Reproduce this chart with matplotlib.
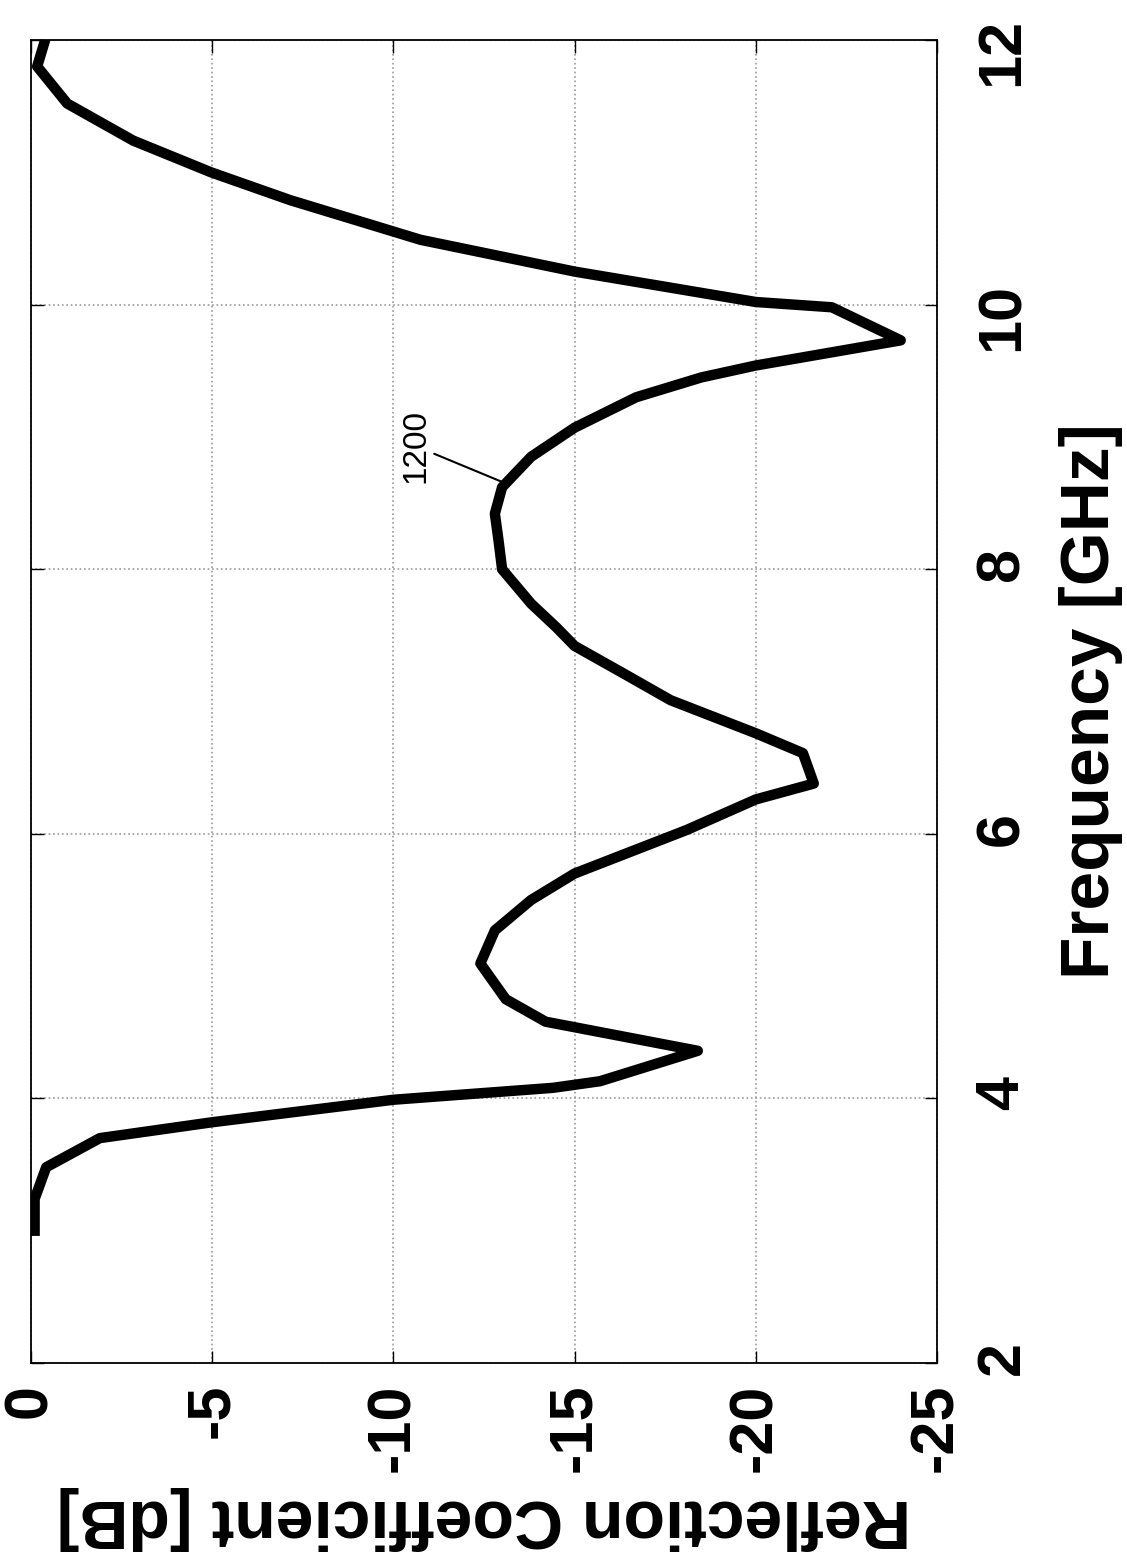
import matplotlib
matplotlib.use('Agg')
import matplotlib.pyplot as plt

# frequency [GHz] and reflection coefficient [dB]
freq = [3.0, 3.24, 3.48, 3.70, 3.82, 3.99, 4.08, 4.13, 4.36, 4.58, 4.75, 5.02,
        5.27, 5.50, 5.70, 6.03, 6.26, 6.38, 6.61, 6.76, 7.01, 7.22, 7.42, 7.56,
        7.74, 8.0, 8.22, 8.42, 8.62, 8.85, 9.07, 9.30, 9.45, 9.54, 9.73, 9.98,
        10.02, 10.25, 10.49, 10.79, 11.0, 11.24, 11.52, 11.80, 12.0]
refl = [-0.1, -0.1, -0.42, -1.9, -5.0, -10.0, -14.4, -15.7, -18.4, -14.2, -13.1, -12.4,
        -12.8, -13.8, -15.0, -18.1, -20.0, -21.6, -21.3, -20.0, -17.65, -16.3, -15.0, -14.5,
        -13.8, -13.0, -12.9, -12.8, -13.0, -13.8, -15.0, -16.7, -18.5, -20.0, -24.0, -22.1,
        -20.0, -15.0, -10.75, -7.15, -4.97, -2.82, -1.0, -0.17, -0.39]

db_ticks = [0, -5, -10, -15, -20, -25]
freq_ticks = [2, 4, 6, 8, 10, 12]

plt.rcParams['font.family'] = ['Liberation Sans', 'DejaVu Sans']
plt.rcParams['axes.unicode_minus'] = False

fig = plt.figure(figsize=(11.27, 15.64), dpi=100)
ax = fig.add_axes([0.0275, 0.1285, 0.8039, 0.8459])

# the figure is drawn turned by 90 degrees: frequency runs up the page
ax.plot(refl, freq, color='black', lw=7.5)

ax.annotate('1200', xy=(-13.0, 8.66), xytext=(-11.05, 8.93), rotation=90,
            ha='right', va='center', fontsize=24,
            arrowprops=dict(arrowstyle='-', lw=1.5, color='black', shrinkA=0, shrinkB=0))

ax.set_xlim(0, -25)
ax.set_ylim(2, 12)
ax.set_xticks(db_ticks)
ax.set_yticks(freq_ticks)
ax.grid(True, linestyle=':', color='0.6', lw=1.2)

ax.tick_params(axis='both', direction='in', length=9, width=1, top=True, right=True,
               labelsize=44)
ax.tick_params(axis='x', labelrotation=90, pad=15)
ax.tick_params(axis='y', left=True, labelleft=False, labelright=True, labelrotation=90, pad=27)
for lbl in ax.get_xticklabels() + ax.get_yticklabels():
    lbl.set_fontweight('bold')
for sp in ax.spines.values():
    sp.set_linewidth(1.3)

ax.set_xlabel('Reflection Coefficient [dB]', fontsize=49, fontweight='bold',
              rotation=180, va='center')
ax.xaxis.set_label_coords(0.5, -0.117)
ax.yaxis.set_label_position('right')
ax.set_ylabel('Frequency [GHz]', fontsize=50, fontweight='bold', rotation=90, va='center')
ax.yaxis.set_label_coords(1.17, 0.5)

fig.savefig('out.png', dpi=100)
